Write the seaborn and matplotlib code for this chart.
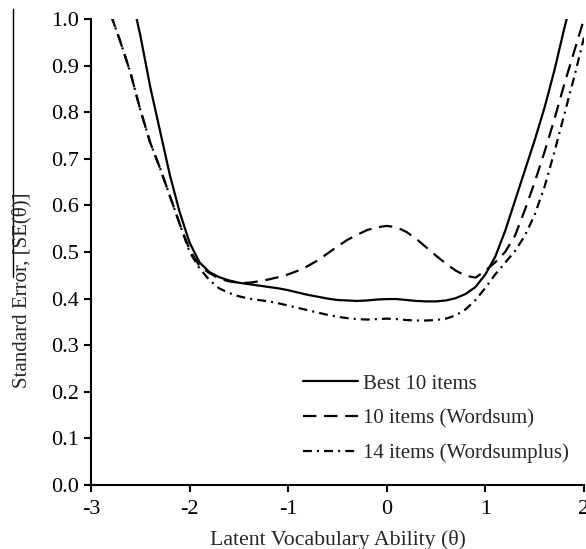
import numpy as np
import pandas as pd
import matplotlib
matplotlib.use("Agg")
import matplotlib.pyplot as plt
from matplotlib.lines import Line2D
import seaborn as sns

# ---- data ----
theta_best = [-2.6, -2.5, -2.4, -2.3, -2.2, -2.1, -2.0, -1.9, -1.8, -1.7, -1.6, -1.5, -1.4, -1.3,
              -1.2, -1.1, -1.0, -0.9, -0.8, -0.7, -0.6, -0.5, -0.4, -0.3, -0.2, -0.1, 0.0, 0.1,
              0.2, 0.3, 0.4, 0.5, 0.6, 0.7, 0.8, 0.9, 1.0, 1.1, 1.2, 1.3, 1.4, 1.5, 1.6, 1.7,
              1.8, 1.9]
se_best = [1.06, 0.965, 0.855, 0.76, 0.665, 0.585, 0.52, 0.478, 0.457, 0.446, 0.439, 0.434,
           0.431, 0.428, 0.425, 0.422, 0.418, 0.413, 0.408, 0.404, 0.400, 0.397, 0.396, 0.395,
           0.396, 0.398, 0.399, 0.399, 0.397, 0.395, 0.394, 0.394, 0.396, 0.401, 0.410, 0.425,
           0.452, 0.490, 0.545, 0.610, 0.675, 0.740, 0.810, 0.890, 0.980, 1.06]

theta_ws = [-2.8, -2.7, -2.6, -2.5, -2.4, -2.3, -2.2, -2.1, -2.0, -1.9, -1.8, -1.7, -1.6, -1.5,
            -1.4, -1.3, -1.2, -1.1, -1.0, -0.9, -0.8, -0.7, -0.6, -0.5, -0.4, -0.3, -0.2, -0.1,
            0.0, 0.1, 0.2, 0.3, 0.4, 0.5, 0.6, 0.7, 0.8, 0.9, 1.0, 1.1, 1.2, 1.3, 1.4, 1.5,
            1.6, 1.7, 1.8, 1.9, 2.0]
se_wordsum = [1.01, 0.95, 0.885, 0.805, 0.735, 0.68, 0.62, 0.56, 0.505, 0.47, 0.455, 0.443,
              0.437, 0.434, 0.434, 0.437, 0.441, 0.446, 0.452, 0.460, 0.470, 0.482, 0.497,
              0.512, 0.526, 0.537, 0.547, 0.553, 0.556, 0.553, 0.543, 0.528, 0.510, 0.492,
              0.475, 0.460, 0.449, 0.445, 0.460, 0.478, 0.500, 0.535, 0.590, 0.650, 0.715,
              0.785, 0.860, 0.930, 1.00]
se_wordsumplus = [1.01, 0.95, 0.885, 0.805, 0.735, 0.68, 0.62, 0.56, 0.50, 0.465, 0.44, 0.422,
                  0.412, 0.405, 0.400, 0.397, 0.394, 0.390, 0.385, 0.380, 0.375, 0.370, 0.365,
                  0.361, 0.358, 0.356, 0.355, 0.356, 0.357, 0.356, 0.354, 0.353, 0.353, 0.354,
                  0.357, 0.364, 0.377, 0.397, 0.423, 0.452, 0.477, 0.502, 0.535, 0.580, 0.640,
                  0.715, 0.795, 0.875, 0.960]

series_labels = ["Best 10 items", "10 items (Wordsum)", "14 items (Wordsumplus)"]
x_ticks = [-3, -2, -1, 0, 1, 2]
y_ticks = [0.0, 0.1, 0.2, 0.3, 0.4, 0.5, 0.6, 0.7, 0.8, 0.9, 1.0]

# ---- style ----
sns.set_style("ticks")
plt.rcParams["font.family"] = ["Liberation Serif", "DejaVu Serif"]
plt.rcParams["mathtext.fontset"] = "stix"

W, H = 586, 549
fig = plt.figure(figsize=(W / 100, H / 100), dpi=100)
ax = fig.add_axes([91 / W, 1 - 485 / H, (584 - 91) / W, (485 - 19) / H])

lw = 1.6
styles = ["-", (0, (6, 3.5)), (0, (4, 2.3, 0.9, 2.3))]
xs = [theta_best, theta_ws, theta_ws]
ys = [se_best, se_wordsum, se_wordsumplus]
for x, y, ls, lab in zip(xs, ys, styles, series_labels):
    sns.lineplot(x=x, y=y, ax=ax, color="black", linewidth=lw, linestyle=ls,
                 label=lab, sort=False)

ax.set_xlim(-3, 2)
ax.set_ylim(0, 1.0)
ax.set_xticks(x_ticks)
ax.set_xticklabels([str(t) for t in x_ticks])
ax.set_yticks(y_ticks)
ax.set_yticklabels([f"{t:.1f}" for t in y_ticks])
ax.tick_params(direction="out", length=5, width=1.5, labelsize=16, colors="black", pad=3.5)
ax.tick_params(axis="x", pad=5.5)
for s in ["top", "right"]:
    ax.spines[s].set_visible(False)
for s in ["left", "bottom"]:
    ax.spines[s].set_linewidth(1.5)
    ax.spines[s].set_color("black")

ax.set_xlabel("Latent Vocabulary Ability (θ)", fontsize=15.7, labelpad=8)
ax.set_ylabel("")
fig.text(22 / W, 1 - 290 / H, "Standard Error, [SE(θ)]", rotation=90,
         ha="center", va="center", fontsize=15)
# overline artifact beside the y label
fig.add_artist(Line2D([13 / W, 13 / W], [1 - 9 / H, 1 - 277 / H], color="black", lw=1.0,
                      transform=fig.transFigure))

handles = [Line2D([], [], color="black", lw=lw, linestyle=ls) for ls in styles]
ax.legend(handles, series_labels, loc="upper left", frameon=False,
          bbox_to_anchor=(303 / W, 1 - 374 / H), bbox_transform=fig.transFigure,
          borderaxespad=0, borderpad=0, handlelength=2.65, handletextpad=0.25,
          labelspacing=0.72, fontsize=15)

fig.savefig("out.png", dpi=100)
